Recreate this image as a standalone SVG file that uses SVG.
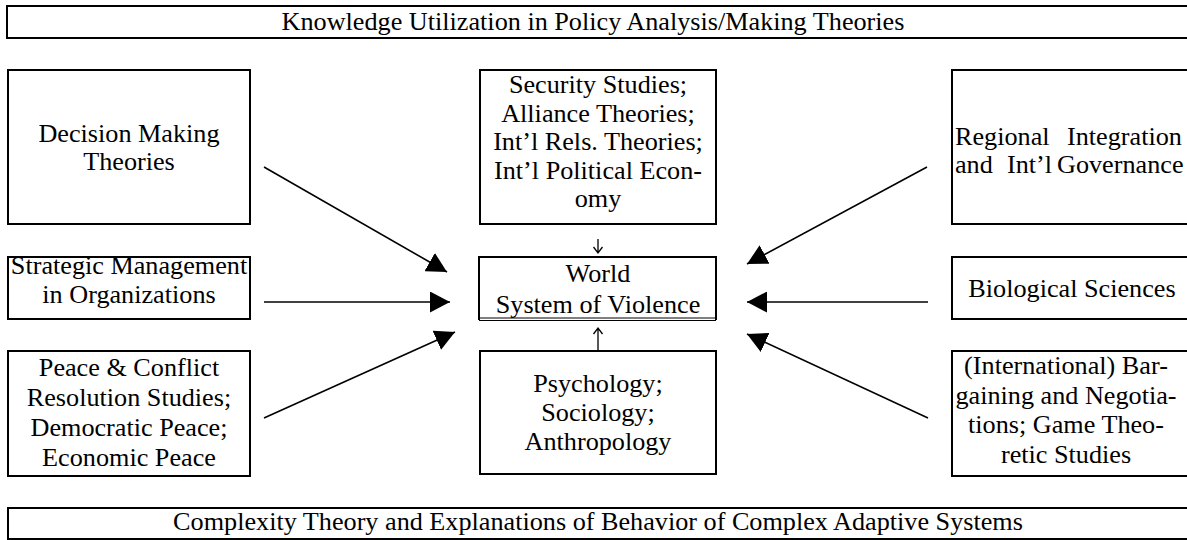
<svg xmlns="http://www.w3.org/2000/svg" width="1187" height="540" viewBox="0 0 1187 540">
<style>
.box{fill:#fff;stroke:#000;stroke-width:2}
.t{font-family:"Liberation Serif","Times New Roman",serif;font-size:26.2px;fill:#000;text-anchor:middle}
.ts{font-family:"Liberation Serif","Times New Roman",serif;font-size:26.2px;fill:#000;text-anchor:start}
.conn{stroke:#000;stroke-width:1.6;fill:none}
.thin{stroke:#000;stroke-width:1;fill:none}
.small{stroke:#000;stroke-width:1.3;fill:none}
</style>
<defs>
<marker id="ah" markerUnits="userSpaceOnUse" markerWidth="21" markerHeight="21" refX="20" refY="10.5" orient="auto" viewBox="0 0 21 21">
<path d="M0,0 L20,10.5 L0,21 Z" fill="#000"/>
</marker>
</defs>
<rect width="1187" height="540" fill="#fff"/>

<g id="top-banner">
<rect class="box" x="7" y="6" width="1190" height="32"/>
<text class="t" x="593" y="30">Knowledge Utilization in Policy Analysis/Making Theories</text>
</g>

<g id="decision">
<rect class="box" x="8" y="70" width="242" height="154"/>
<text class="t"><tspan x="129" y="142">Decision Making</tspan><tspan x="129" y="170">Theories</tspan></text>
</g>

<g id="strategic">
<rect class="box" x="8" y="257" width="242" height="62"/>
<text class="t"><tspan x="129" y="274">Strategic Management</tspan><tspan x="129" y="303">in Organizations</tspan></text>
</g>

<g id="peace">
<rect class="box" x="8" y="351" width="242" height="125"/>
<text class="t"><tspan x="129" y="376">Peace &amp; Conflict</tspan><tspan x="129" y="406">Resolution Studies;</tspan><tspan x="129" y="436">Democratic Peace;</tspan><tspan x="129" y="466">Economic Peace</tspan></text>
</g>

<g id="security">
<rect class="box" x="480" y="70" width="236" height="154"/>
<text class="t"><tspan x="598" y="93">Security Studies;</tspan><tspan x="598" y="121.5">Alliance Theories;</tspan><tspan x="598" y="150">Int’l Rels. Theories;</tspan><tspan x="598" y="178.5">Int’l Political Econ-</tspan><tspan x="598" y="207">omy</tspan></text>
</g>

<g id="world">
<path d="M479,320 V257 H716 V320" class="box" fill="none"/>
<line class="thin" x1="479" y1="318" x2="716" y2="318"/>
<line class="thin" x1="479" y1="320.5" x2="716" y2="320.5"/>
<text class="t"><tspan x="598" y="282">World</tspan><tspan x="598" y="313">System of Violence</tspan></text>
</g>

<g id="psychology">
<rect class="box" x="480" y="351" width="236" height="123"/>
<text class="t"><tspan x="598" y="392">Psychology;</tspan><tspan x="598" y="421">Sociology;</tspan><tspan x="598" y="450">Anthropology</tspan></text>
</g>

<g id="regional">
<rect class="box" x="952" y="70" width="245" height="154"/>
<text class="ts" x="955" y="145">Regional</text>
<text class="ts" x="1067" y="145">Integration</text>
<text class="ts" x="955" y="173">and</text>
<text class="ts" x="1007" y="173">Int’l</text>
<text class="ts" x="1057" y="173">Governance</text>
</g>

<g id="biological">
<rect class="box" x="952" y="257" width="245" height="62"/>
<text class="t" x="1072" y="297">Biological Sciences</text>
</g>

<g id="bargaining">
<rect class="box" x="952" y="351" width="245" height="125"/>
<text class="t"><tspan x="1066" y="374">(International) Bar-</tspan><tspan x="1066" y="403.5">gaining and Negotia-</tspan><tspan x="1066" y="433">tions; Game Theo-</tspan><tspan x="1066" y="462.5">retic Studies</tspan></text>
</g>

<g id="bottom-banner">
<rect class="box" x="8" y="508" width="1190" height="31"/>
<text class="t" x="598" y="530">Complexity Theory and Explanations of Behavior of Complex Adaptive Systems</text>
</g>

<g id="connectors">
<line class="conn" x1="264" y1="167" x2="447" y2="272" marker-end="url(#ah)"/>
<line class="conn" x1="264" y1="302" x2="450" y2="302" marker-end="url(#ah)"/>
<line class="conn" x1="264" y1="418" x2="455" y2="332" marker-end="url(#ah)"/>
<line class="conn" x1="927" y1="167" x2="747" y2="264" marker-end="url(#ah)"/>
<line class="conn" x1="928" y1="302" x2="747" y2="302" marker-end="url(#ah)"/>
<line class="conn" x1="928" y1="418" x2="747" y2="334" marker-end="url(#ah)"/>
<path class="small" d="M598,239 V253 M593.5,247 L598,253 L602.5,247"/>
<path class="small" d="M598,351 V328 M593.5,334 L598,328 L602.5,334"/>
</g>
</svg>
